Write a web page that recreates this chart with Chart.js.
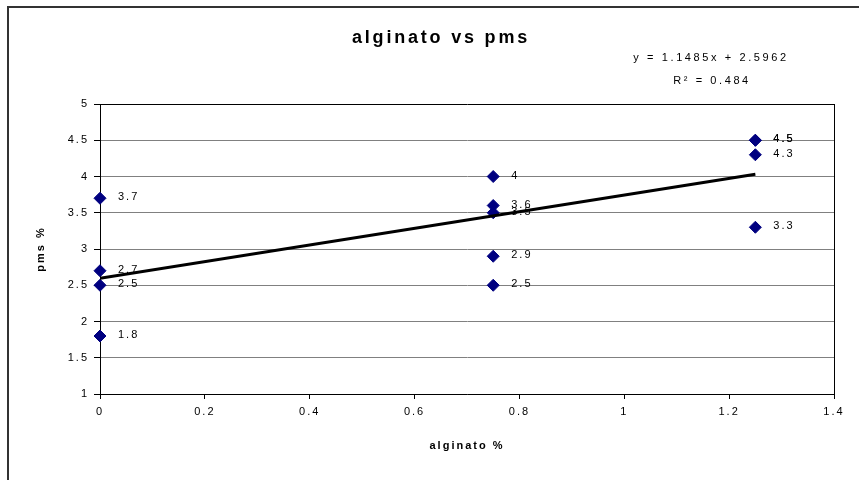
<!DOCTYPE html>
<html lang="es">
<head>
    <meta charset="UTF-8">
    <title>alginato vs pms</title>
    <script src="https://cdn.jsdelivr.net/npm/chart.js"></script>
    <style>
        * {
            box-sizing: border-box;
            margin: 0;
            padding: 0;
        }

        body {
            width: 859px;
            height: 480px;
            background: #fff;
            overflow: hidden;
            position: relative;
        }

        /* outer chart frame, only left and top edges show in the window */
        .frame {
            position: absolute;
            left: 7px;
            top: 6px;
            width: 1000px;
            height: 800px;
            border: 2px solid #333;
        }

        .wrap {
            position: absolute;
            left: 0;
            top: 0;
            width: 859px;
            height: 480px;
        }
    </style>
</head>
<body>
    <div class="frame"></div>
    <div class="wrap">
        <canvas id="chart"></canvas>
    </div>

    <script>
        // data
        let chartTitle = "alginato vs pms";
        let xTitle = "alginato %";
        let yTitle = "pms %";
        let alginato = [0, 0, 0, 0, 0.75, 0.75, 0.75, 0.75, 0.75, 1.25, 1.25, 1.25, 1.25];
        let pms = [3.7, 2.7, 2.5, 1.8, 4, 3.6, 3.5, 2.9, 2.5, 4.5, 4.5, 4.3, 3.3];
        let trendX = [0, 1.25];
        let trendY = [2.5962, 4.0318];
        let equation = "y = 1.1485x + 2.5962";
        let rSquared = "R² = 0.484";
        let xTicks = [0, 0.2, 0.4, 0.6, 0.8, 1, 1.2, 1.4];
        let yTicks = [1, 1.5, 2, 2.5, 3, 3.5, 4, 4.5, 5];

        const fontFamily = '"Liberation Sans", Arial, sans-serif';
        Chart.defaults.font.family = fontFamily;
        Chart.defaults.font.size = 11;
        Chart.defaults.color = '#000';

        // excel-ish wide letter spacing + title, equation and point labels
        const excelText = {
            id: 'excelText',
            beforeDraw(chart) {
                chart.ctx.letterSpacing = '2px';
            },
            beforeDatasetsDraw(chart) {
                let ctx = chart.ctx;
                let a = chart.chartArea;
                ctx.save();
                ctx.strokeStyle = '#000';
                ctx.lineWidth = 1;
                ctx.beginPath();
                ctx.moveTo(a.right + 0.5, a.top);
                ctx.lineTo(a.right + 0.5, a.bottom);
                ctx.stroke();
                ctx.restore();
            },
            afterDraw(chart) {
                let ctx = chart.ctx;
                ctx.save();
                ctx.fillStyle = '#000';
                ctx.textBaseline = 'middle';

                ctx.textAlign = 'center';
                ctx.font = 'bold 18px ' + fontFamily;
                ctx.letterSpacing = '2.8px';
                ctx.fillText(chartTitle, 441, 38);

                ctx.font = '11px ' + fontFamily;
                ctx.letterSpacing = '2.6px';
                ctx.fillText(equation, 711, 58);
                ctx.fillText(rSquared, 712, 81);

                // point labels
                ctx.textAlign = 'left';
                ctx.letterSpacing = '2px';
                let pts = chart.getDatasetMeta(1).data;
                pts.forEach((p, i) => {
                    ctx.fillText(String(pms[i]), p.x + 18, p.y - 1);
                });
                ctx.restore();
            }
        };

        new Chart(document.getElementById("chart"), {
            type: 'scatter',
            data: {
                datasets: [{
                    type: 'line',
                    label: 'Lineal',
                    data: trendX.map((x, i) => ({ x: x, y: trendY[i] })),
                    borderColor: '#000',
                    borderWidth: 3,
                    pointRadius: 0,
                    fill: false,
                    order: 0
                }, {
                    label: 'pms',
                    data: alginato.map((x, i) => ({ x: x, y: pms[i] })),
                    pointStyle: 'rectRot',
                    pointRadius: 6,
                    backgroundColor: '#000080',
                    borderColor: '#000080',
                    borderWidth: 1,
                    clip: false,
                    order: 1
                }]
            },
            options: {
                responsive: true,
                maintainAspectRatio: false,
                animation: false,
                layout: {
                    padding: { left: 34, top: 104, right: 25, bottom: 0 }
                },
                plugins: {
                    legend: { display: false },
                    tooltip: { enabled: false },
                    title: { display: false }
                },
                scales: {
                    x: {
                        type: 'linear',
                        min: 0,
                        max: 1.4,
                        afterBuildTicks: s => { s.ticks = xTicks.map(v => ({ value: v })); },
                        afterFit: s => { s.height = 86; },
                        ticks: {
                            padding: 6,
                            maxRotation: 0,
                            callback: v => String(v)
                        },
                        grid: {
                            drawOnChartArea: false,
                            drawTicks: true,
                            tickLength: 5,
                            tickColor: '#000'
                        },
                        border: { color: '#000', width: 1 },
                        title: {
                            display: true,
                            text: xTitle,
                            font: { weight: 'bold', size: 11 },
                            padding: { top: 0, bottom: 27 }
                        }
                    },
                    y: {
                        type: 'linear',
                        min: 1,
                        max: 5,
                        afterBuildTicks: s => { s.ticks = yTicks.map(v => ({ value: v })); },
                        afterFit: s => { s.width = 66; },
                        ticks: {
                            padding: 5,
                            callback: v => String(v)
                        },
                        grid: {
                            color: c => (c.tick && c.tick.value === 5) ? '#000' : '#808080',
                            tickColor: '#000',
                            tickLength: 6
                        },
                        border: { color: '#000', width: 1 },
                        title: {
                            display: true,
                            text: yTitle,
                            font: { weight: 'bold', size: 11 },
                            padding: { top: 0, bottom: 0 }
                        }
                    }
                }
            },
            plugins: [excelText]
        });
    </script>
</body>
</html>
